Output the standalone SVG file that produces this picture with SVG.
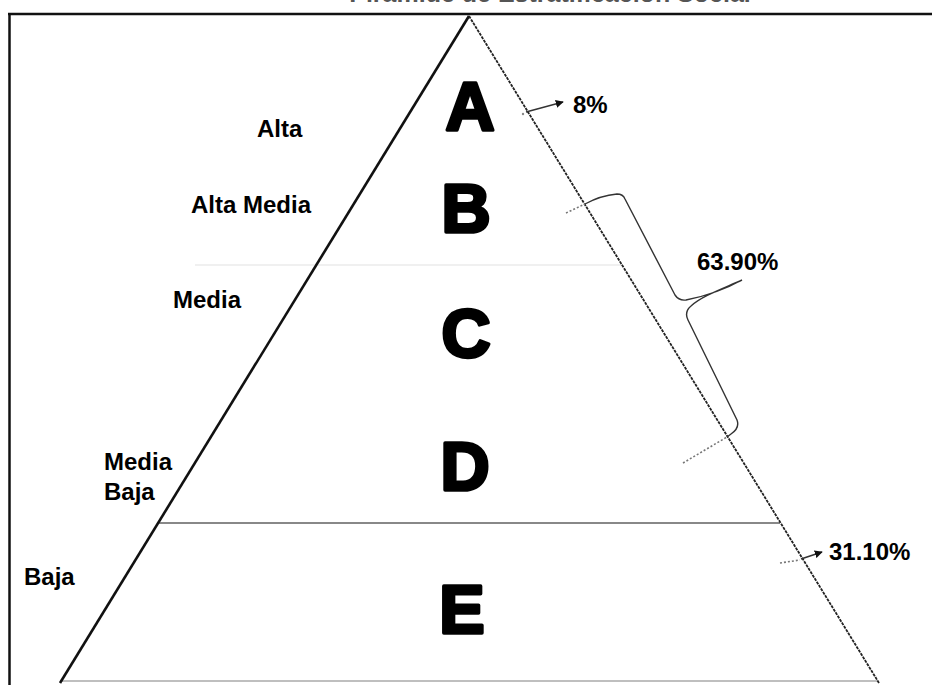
<svg xmlns="http://www.w3.org/2000/svg" width="932" height="685" viewBox="0 0 932 685">
<defs>
<style>
.lbl{font-family:"Liberation Sans",Arial,sans-serif;font-weight:bold;font-size:24px;fill:#000}
.big{font-family:"Liberation Sans",Arial,sans-serif;font-weight:900;font-size:68px;fill:#000;stroke:#000;stroke-width:3.5;stroke-linejoin:round;text-anchor:middle}
.conn{fill:none;stroke:#333;stroke-width:1.4}
.dots{fill:none;stroke:#777;stroke-width:1.6;stroke-dasharray:2 2}
</style>
<marker id="arr" viewBox="0 0 10 10" refX="9" refY="5" markerWidth="8" markerHeight="8" markerUnits="userSpaceOnUse" orient="auto">
<path d="M0,0 L10,5 L0,10 z" fill="#111"/>
</marker>
</defs>
<rect width="932" height="685" fill="#fff"/>
<g id="title">
<text x="550" y="2" class="lbl" text-anchor="middle" style="font-size:25px;fill:#555">Pirámide de Estratificación Social</text>
</g>
<g id="frame">
<line x1="8" y1="14" x2="932" y2="14" stroke="#111" stroke-width="2.5"/>
<line x1="9.5" y1="13" x2="9.5" y2="685" stroke="#111" stroke-width="2.5"/>
</g>
<g id="pyramid">
<line x1="60" y1="681" x2="878" y2="681" stroke="#aaa" stroke-width="1.6"/>
<line x1="195" y1="265" x2="622" y2="265" stroke="#f0f0f0" stroke-width="2"/>
<line x1="158" y1="523" x2="780" y2="523" stroke="#888" stroke-width="2"/>
<line x1="469" y1="16" x2="60" y2="683" stroke="#111" stroke-width="2.6"/>
<line x1="469" y1="16" x2="879" y2="683" stroke="#222" stroke-width="1.8" stroke-dasharray="3 1"/>
</g>
<g id="level-A"><text x="470" y="130" class="big">A</text><text x="257" y="137" class="lbl">Alta</text></g>
<g id="level-B"><text x="466" y="232" class="big">B</text><text x="191" y="213" class="lbl">Alta Media</text></g>
<g id="level-C"><text x="466" y="357" class="big">C</text><text x="173" y="308" class="lbl">Media</text></g>
<g id="level-D"><text x="465" y="490" class="big">D</text><text x="104" y="470" class="lbl">Media</text><text x="104" y="500" class="lbl">Baja</text></g>
<g id="level-E"><text x="462" y="633" class="big">E</text><text x="24" y="585" class="lbl">Baja</text></g>
<g id="percentages">
<text x="573" y="113" class="lbl">8%</text>
<text x="697" y="270" class="lbl">63.90%</text>
<text x="829" y="560" class="lbl">31.10%</text>
</g>
<g id="connectors">
<circle cx="523" cy="114" r="1.2" fill="#888"/>
<line x1="526" y1="112" x2="563" y2="102" class="conn" marker-end="url(#arr)"/>
<path d="M566,213 L585,204" class="dots"/>
<path d="M585,204 C596,198 606,195 617,194 Q623,194 625,199 L675,295 Q679,301 686,300 C706,296 726,289 742,280 C722,289 702,296 691,306 Q684,312 688,320 L737,420 Q740,428 731,434 L727,437" class="conn"/>
<path d="M683,463 L727,437" class="dots"/>
<path d="M780,563 L800,560" class="dots"/>
<line x1="801" y1="559" x2="822" y2="552" class="conn" marker-end="url(#arr)"/>
</g>
</svg>
